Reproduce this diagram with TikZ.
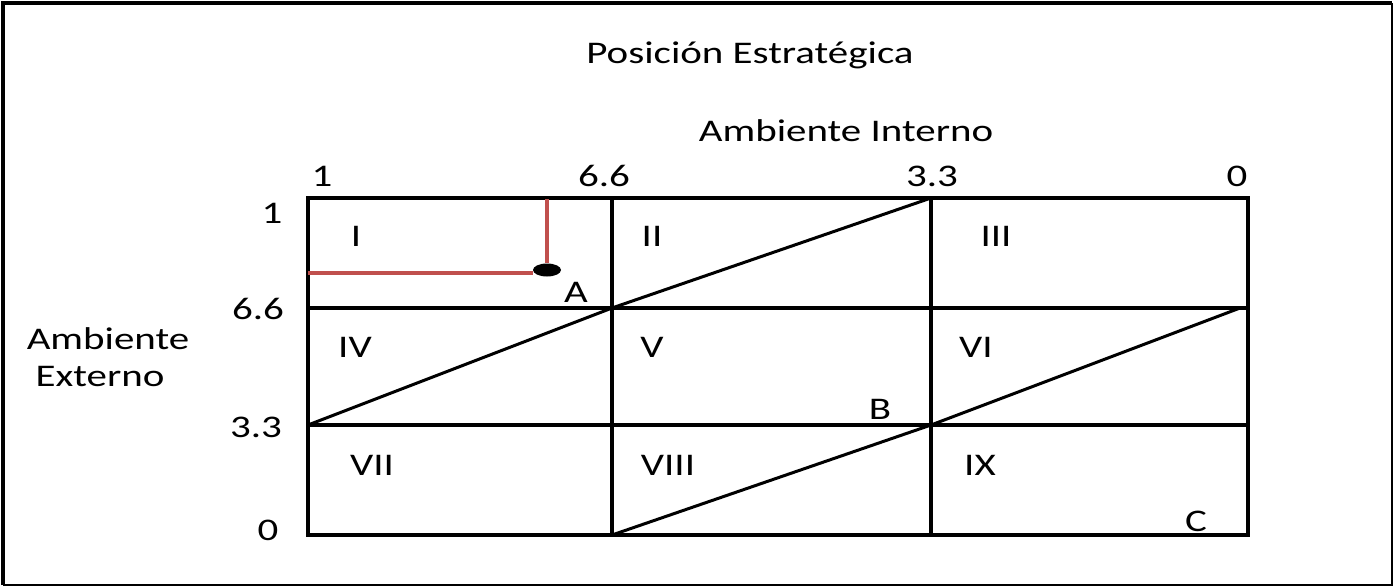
\documentclass[tikz,border=0pt]{standalone}
\usepackage{fontspec}
\usetikzlibrary{shapes.geometric}
\setmainfont[FakeStretch=1.3]{Carlito}
\definecolor{redline}{HTML}{C0504D}
\begin{document}
\begin{tikzpicture}[x=1pt,y=-1pt,
  lbl/.style={font=\fontsize{31.5}{34}\selectfont, inner sep=0pt},
  grid/.style={line width=3.8pt},
  diag/.style={line width=3pt},
  red/.style={draw=redline,line width=3.5pt}]
\useasboundingbox (0,0) rectangle (1395,587);
\fill[white] (0,0) rectangle (1395,587);
% outer frame
\draw[line width=2pt] (3,585) -- (1392,585) -- (1392,3);
\draw[line width=4pt] (3,585) -- (3,3) -- (1392,3);
% grid corners
\coordinate (c00) at (308,198); \coordinate (c10) at (612,198); \coordinate (c20) at (931,198); \coordinate (c30) at (1248,198);
\coordinate (c01) at (308,308); \coordinate (c11) at (612,308); \coordinate (c21) at (931,308); \coordinate (c31) at (1248,308);
\coordinate (c02) at (308,425); \coordinate (c12) at (612,425); \coordinate (c22) at (931,425); \coordinate (c32) at (1248,425);
\coordinate (c03) at (308,535); \coordinate (c13) at (612,535); \coordinate (c23) at (931,535); \coordinate (c33) at (1248,535);
\draw[grid] (c00) rectangle (c33);
\draw[grid] (c10) -- (c13);
\draw[grid] (c20) -- (c23);
\draw[grid] (c01) -- (c31);
\draw[grid] (c02) -- (c32);
% diagonals
\draw[diag] (c02) -- (c11) -- (c20);
\coordinate (d2) at (1240,308);
\draw[diag] (c13) -- (c22) -- (d2);
% red point
\node[ellipse, fill=black, inner sep=0pt, minimum width=28pt, minimum height=13pt] (pt) at (547,270) {};
\coordinate (rl) at (308,273);
\coordinate (rt) at (547,199);
\draw[red] (rl) -- (pt.west |- rl);
\draw[red] (rt) -- (pt.north);
% titles
\node[lbl] (title) at (750,55) {Posición Estratégica};
\node[lbl] (ai) at (846,131) {Ambiente Interno};
\node[lbl] (ae1) at (108,339) {Ambiente};
\node[lbl] (ae2) at (100,377) {Externo};
% top ticks
\node[lbl] (t1) at (322,176) {1};
\node[lbl] (t2) at (604,176) {6.6};
\node[lbl] (t3) at (932,176) {3.3};
\node[lbl] (t4) at (1237,176) {0};
% left ticks
\node[lbl] (l1) at (272,213) {1};
\node[lbl] (l2) at (258,309) {6.6};
\node[lbl] (l3) at (256,427) {3.3};
\node[lbl] (l4) at (268,530) {0};
% cells
\node[lbl] (r1) at (356,236) {I};
\node[lbl] (r2) at (652,236) {II};
\node[lbl] (r3) at (996,236) {III};
\node[lbl] (r4) at (355,347) {IV};
\node[lbl] (r5) at (652,347) {V};
\node[lbl] (r6) at (976,347) {VI};
\node[lbl] (r7) at (372,465) {VII};
\node[lbl] (r8) at (668,465) {VIII};
\node[lbl] (r9) at (980,465) {IX};
\node[lbl] (A) at (576,292) {A};
\node[lbl] (B) at (880,409) {B};
\node[lbl] (C) at (1196,521) {C};
\end{tikzpicture}
\end{document}
